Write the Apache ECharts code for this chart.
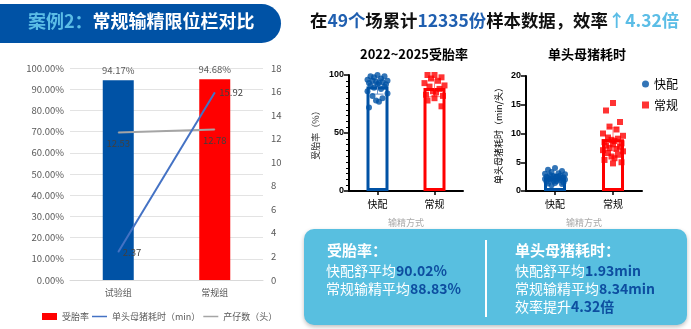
<!DOCTYPE html>
<html><head><meta charset="utf-8">
<script src="https://cdn.jsdelivr.net/npm/echarts@6/dist/echarts.min.js"></script>
<style>html,body{margin:0;padding:0;background:#fff}#c{width:691px;height:329px}</style>
</head><body><div id="c"></div>
<script>
// ---- left combo chart ----
const groups = ['试验组', '常规组'];
const rateByGroup = [94.17, 94.68];          // 受胎率 (%)
const timeByGroup = [2.37, 15.92];           // 单头母猪耗时 (min)
const litterByGroup = [12.53, 12.78];        // 产仔数 (头)
const legendNames = ['受胎率', '单头母猪耗时（min）', '产仔数（头）'];

// ---- dot plots ----
const methods = ['快配', '常规'];
const rateFast = [100, 99, 99, 98, 97, 96, 95, 95, 94, 94, 93, 93, 92, 92, 91, 90, 89, 88, 86, 84, 82, 80, 78, 77, 72];
const rateNormal = [100, 100, 98, 97, 95, 93, 91, 90, 88, 86, 85, 83, 82, 80, 78, 73];
const rateMean = [90.02, 88.83];
const rateSD = [6.5, 7.5];
const timeFast = [4.0, 3.7, 3.5, 3.3, 3.1, 3.0, 2.9, 2.8, 2.7, 2.6, 2.5, 2.5, 2.4, 2.4, 2.3, 2.3, 2.2, 2.2, 2.1, 2.0, 2.0, 1.9, 1.8, 1.7, 1.6, 1.5, 1.4, 1.3, 1.2, 1.0];
const timeNormal = [15.3, 14.0, 12.0, 11.2, 10.7, 10.0, 9.6, 9.3, 9.1, 8.9, 8.7, 8.5, 8.3, 8.1, 7.9, 7.7, 7.5, 7.3, 7.1, 6.9, 6.6, 6.3, 6.0, 5.7, 5.4, 5.0, 4.8];
const timeMean = [2.3, 9.0];
const timeSD = [0.6, 2.0];

// ---- texts ----
const bannerLead = '案例2：';
const bannerTitle = '常规输精限位栏对比';
const farmCount = '49';
const sampleCount = '12335';
const gain = '4.32';
const rateAvgText = ['90.02%', '88.83%'];
const timeAvgText = ['1.93min', '8.34min'];

const FONT = '"Noto Sans CJK SC", "Noto Sans", sans-serif';
const BLUE = '#0052a5', RED = '#ff0000';
const LINE_ICON = 'path://M0,0H30V3H0Z';

const chart = echarts.init(document.getElementById('c'));

function jitter(i) {
  const p = [0, -7, 7, -3.5, 3.5, -10, 10, -5, 5, -1.5, 1.5, -8.5, 8.5];
  return p[i % p.length];
}
function dots(cat, arr) {
  return arr.map((v, i) => ({ value: [cat, v], symbolOffset: [jitter(i), 0] }));
}
function errData(mean, sd) {
  return mean.map((m, i) => [i, m - sd[i], m + sd[i]]);
}
function errRender(colors) {
  return function (params, api) {
    const x = api.value(0);
    const lo = api.coord([x, api.value(1)]);
    const hi = api.coord([x, api.value(2)]);
    const c = colors[params.dataIndex];
    const h = 6;
    const st = { stroke: c, lineWidth: 1 };
    return { type: 'group', children: [
      { type: 'line', shape: { x1: lo[0], y1: lo[1], x2: hi[0], y2: hi[1] }, style: st },
      { type: 'line', shape: { x1: hi[0] - h, y1: hi[1], x2: hi[0] + h, y2: hi[1] }, style: st },
      { type: 'line', shape: { x1: lo[0] - h, y1: lo[1], x2: lo[0] + h, y2: lo[1] }, style: st }
    ] };
  };
}

const blackAxis = { lineStyle: { color: '#000', width: 2 } };
const GRAY_TXT = '#595959';

const option = {
  animation: false,
  textStyle: { fontFamily: FONT },
  grid: [
    { left: 70, right: 428, top: 68, bottom: 49 },
    { left: 349, right: 228, top: 75, bottom: 138 },
    { left: 526, right: 49, top: 76, bottom: 138 }
  ],
  legend: [
    {
      data: [
        { name: legendNames[0], icon: 'rect' },
        { name: legendNames[1], icon: LINE_ICON },
        { name: legendNames[2], icon: LINE_ICON }
      ],
      left: 37, top: 307, itemWidth: 15, itemHeight: 7, itemGap: 3,
      textStyle: { color: GRAY_TXT, fontSize: 9, fontFamily: FONT }
    },
    {
      data: methods, orient: 'vertical', left: 637, top: 73, itemWidth: 7, itemHeight: 7, itemGap: 9,
      textStyle: { color: '#000', fontSize: 12, fontFamily: FONT }
    }
  ],
  xAxis: [
    {
      gridIndex: 0, type: 'category', data: groups,
      axisLine: { lineStyle: { color: '#d9d9d9' } }, axisTick: { show: false },
      axisLabel: { color: GRAY_TXT, fontSize: 9, margin: 8 }
    },
    {
      gridIndex: 1, type: 'category', data: methods, axisLine: blackAxis,
      axisTick: { show: true, alignWithLabel: true, length: 4, lineStyle: { color: '#000', width: 1.5 } },
      axisLabel: { color: '#000', fontSize: 10, margin: 8 },
      name: '输精方式', nameLocation: 'middle', nameGap: 27, nameTextStyle: { color: '#aaa', fontSize: 9 }
    },
    {
      gridIndex: 2, type: 'category', data: methods, axisLine: blackAxis,
      axisTick: { show: true, alignWithLabel: true, length: 4, lineStyle: { color: '#000', width: 1.5 } },
      axisLabel: { color: '#000', fontSize: 10, margin: 8 },
      name: '输精方式', nameLocation: 'middle', nameGap: 27, nameTextStyle: { color: '#aaa', fontSize: 9 }
    }
  ],
  yAxis: [
    {
      gridIndex: 0, type: 'value', min: 0, max: 100, interval: 10,
      axisLabel: { color: GRAY_TXT, fontSize: 9.5, formatter: v => v.toFixed(2) + '%', margin: 6 },
      splitLine: { lineStyle: { color: '#e3e3e3' } }, axisLine: { show: false }, axisTick: { show: false }
    },
    {
      gridIndex: 0, type: 'value', min: 0, max: 18, interval: 2, position: 'right',
      axisLabel: { color: GRAY_TXT, fontSize: 9.5, margin: 8 },
      splitLine: { show: false }, axisLine: { show: false }, axisTick: { show: false }
    },
    {
      gridIndex: 1, type: 'value', min: 0, max: 100, interval: 50,
      axisLine: { show: true, lineStyle: { color: '#000', width: 2 } },
      axisTick: { show: true, length: 5, lineStyle: { color: '#000', width: 1.5 } },
      minorTick: { show: true, splitNumber: 10, length: 3, lineStyle: { color: '#000' } },
      splitLine: { show: false },
      axisLabel: { color: '#000', fontSize: 9, fontWeight: 'bold', fontFamily: 'Liberation Sans', margin: 5 },
      name: '受胎率（%）', nameLocation: 'middle', nameGap: 29, nameTextStyle: { color: '#333', fontSize: 9 }
    },
    {
      gridIndex: 2, type: 'value', min: 0, max: 20, interval: 5,
      axisLine: { show: true, lineStyle: { color: '#000', width: 2 } },
      axisTick: { show: true, length: 5, lineStyle: { color: '#000', width: 1.5 } },
      splitLine: { show: false },
      axisLabel: { color: '#000', fontSize: 9, fontWeight: 'bold', fontFamily: 'Liberation Sans', margin: 5 },
      name: '单头母猪耗时（min/头）', nameLocation: 'middle', nameGap: 23, nameTextStyle: { color: '#000', fontSize: 9 }
    }
  ],
  series: [
    {
      type: 'bar', name: '受胎率', xAxisIndex: 0, yAxisIndex: 0, barWidth: 31,
      itemStyle: { color: RED },
      data: rateByGroup.map((v, i) => ({ value: v, itemStyle: { color: i === 0 ? BLUE : RED } })),
      label: { show: true, position: 'top', color: GRAY_TXT, fontSize: 9.5, distance: 5, formatter: p => p.value.toFixed(2) + '%' }
    },
    {
      type: 'line', name: '单头母猪耗时（min）', xAxisIndex: 0, yAxisIndex: 1, data: timeByGroup,
      symbol: 'circle', symbolSize: 1, showSymbol: true, z: 3,
      lineStyle: { color: '#4472c4', width: 2 }, itemStyle: { color: '#4472c4' },
      label: { show: true, position: 'right', color: '#404040', fontSize: 9.5, distance: 4 }
    },
    {
      type: 'line', name: '产仔数（头）', xAxisIndex: 0, yAxisIndex: 1, data: litterByGroup,
      symbol: 'circle', symbolSize: 1, showSymbol: true, z: 2,
      lineStyle: { color: '#a5a5a5', width: 2 }, itemStyle: { color: '#a5a5a5' },
      label: { show: true, position: 'bottom', color: '#404040', fontSize: 9.5, distance: 6 }
    },
    // plot 1
    {
      type: 'bar', name: 'rateMean', xAxisIndex: 1, yAxisIndex: 2, barWidth: 22,
      data: rateMean.map((v, i) => ({ value: v, itemStyle: { color: '#fff', borderColor: i === 0 ? BLUE : RED, borderWidth: 3 } }))
    },
    {
      type: 'custom', name: 'rateErr', xAxisIndex: 1, yAxisIndex: 2, renderItem: errRender(['#6a93c9', '#ff8080']),
      encode: { x: 0, y: [1, 2] }, data: errData(rateMean, rateSD), z: 3
    },
    {
      type: 'scatter', name: 'rateFast', xAxisIndex: 1, yAxisIndex: 2, symbol: 'circle', symbolSize: 6,
      itemStyle: { color: BLUE }, data: dots('快配', rateFast), z: 4
    },
    {
      type: 'scatter', name: 'rateNormal', xAxisIndex: 1, yAxisIndex: 2, symbol: 'rect', symbolSize: 6,
      itemStyle: { color: RED }, data: dots('常规', rateNormal), z: 4
    },
    // plot 2
    {
      type: 'bar', name: 'timeMean', xAxisIndex: 2, yAxisIndex: 3, barWidth: 22,
      data: timeMean.map((v, i) => ({ value: v, itemStyle: { color: '#fff', borderColor: i === 0 ? BLUE : RED, borderWidth: 3 } }))
    },
    {
      type: 'custom', name: 'timeErr', xAxisIndex: 2, yAxisIndex: 3, renderItem: errRender(['#6a93c9', '#ff8080']),
      encode: { x: 0, y: [1, 2] }, data: errData(timeMean, timeSD), z: 3
    },
    {
      type: 'scatter', name: '快配', xAxisIndex: 2, yAxisIndex: 3, symbol: 'circle', symbolSize: 6,
      itemStyle: { color: BLUE }, data: dots('快配', timeFast), z: 4
    },
    {
      type: 'scatter', name: '常规', xAxisIndex: 2, yAxisIndex: 3, symbol: 'rect', symbolSize: 6,
      itemStyle: { color: RED }, data: dots('常规', timeNormal), z: 4
    }
  ],
  graphic: [
    { type: 'rect', left: 0, top: 4, shape: { width: 281, height: 39, r: [0, 20, 20, 0] }, style: { fill: '#0052a5' } },
    {
      type: 'text', left: 28, top: 12,
      style: {
        text: '{a|' + bannerLead + '}{b|' + bannerTitle + '}',
        rich: {
          a: { fill: '#5bbde6', fontSize: 18, fontWeight: 'bold', fontFamily: FONT },
          b: { fill: '#ffffff', fontSize: 18, fontWeight: 'bold', fontFamily: FONT }
        }
      }
    },
    {
      type: 'text', left: 310, top: 12,
      style: {
        text: '{k|在}{b|' + farmCount + '个}{k|场累计}{b|' + sampleCount + '份}{k|样本数据，效率}{c|↑' + gain + '倍}',
        rich: {
          k: { fill: '#111', fontSize: 17.4, fontWeight: 'bold', fontFamily: FONT },
          b: { fill: '#1f5fb0', fontSize: 17.4, fontWeight: 'bold', fontFamily: FONT },
          c: { fill: '#5bbde6', fontSize: 17.4, fontWeight: 'bold', fontFamily: FONT }
        }
      }
    },
    { type: 'text', left: 360, top: 48, style: { text: '2022~2025受胎率', fill: '#000', fontSize: 13, fontWeight: 'bold', fontFamily: FONT } },
    { type: 'text', left: 548, top: 48, style: { text: '单头母猪耗时', fill: '#000', fontSize: 13, fontWeight: 'bold', fontFamily: FONT } },
    {
      type: 'rect', left: 304, top: 229, z: 10, shape: { width: 383, height: 96, r: 10 },
      style: { fill: '#58bfe0', shadowBlur: 4, shadowColor: 'rgba(0,0,0,0.25)', shadowOffsetY: 2 }
    },
    { type: 'line', z: 11, shape: { x1: 486, y1: 240, x2: 486, y2: 317 }, style: { stroke: '#fff', lineWidth: 2 } },
    {
      type: 'text', left: 327, top: 243, z: 11,
      style: { text: '受胎率：', fill: '#fff', fontSize: 15, fontWeight: 'bold', fontFamily: FONT }
    },
    {
      type: 'text', left: 326, top: 264, z: 11,
      style: {
        text: '{w|快配舒平均}{n|' + rateAvgText[0] + '}\n{w|常规输精平均}{n|' + rateAvgText[1] + '}',
        rich: {
          w: { fill: '#fff', fontSize: 14, fontFamily: FONT, lineHeight: 18 },
          n: { fill: '#0d4ea0', fontSize: 14, fontWeight: 'bold', fontFamily: FONT, lineHeight: 18 }
        }
      }
    },
    {
      type: 'text', left: 515, top: 243, z: 11,
      style: { text: '单头母猪耗时：', fill: '#fff', fontSize: 15, fontWeight: 'bold', fontFamily: FONT }
    },
    {
      type: 'text', left: 515, top: 264, z: 11,
      style: {
        text: '{w|快配舒平均}{n|' + timeAvgText[0] + '}\n{w|常规输精平均}{n|' + timeAvgText[1] + '}\n{w|效率提升}{n|' + gain + '倍}',
        rich: {
          w: { fill: '#fff', fontSize: 14, fontFamily: FONT, lineHeight: 18 },
          n: { fill: '#0d4ea0', fontSize: 14, fontWeight: 'bold', fontFamily: FONT, lineHeight: 18 }
        }
      }
    }
  ]
};
chart.setOption(option);
</script>
</body></html>
